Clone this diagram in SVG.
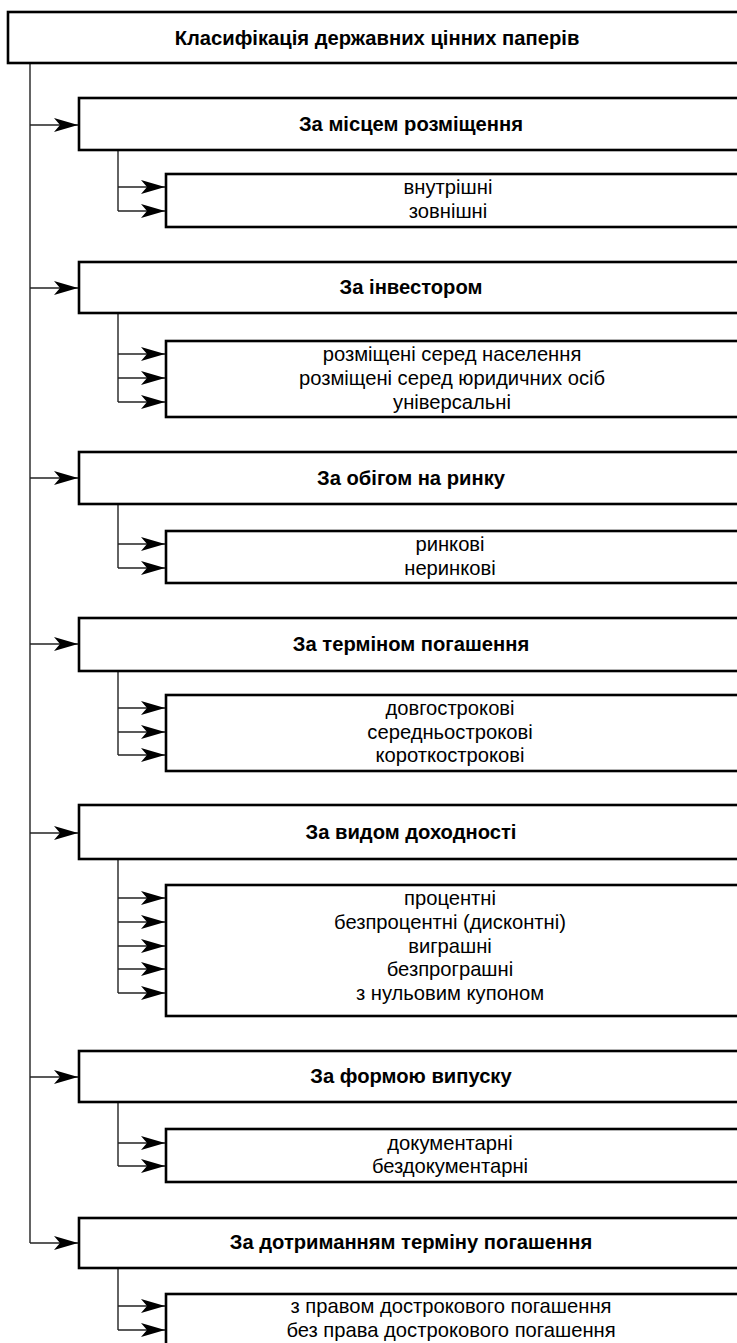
<svg xmlns="http://www.w3.org/2000/svg" width="737" height="1343" viewBox="0 0 737 1343">
<style>
.box{fill:#fff;stroke:#000;stroke-width:2.6}
.ln{fill:none;stroke:#222;stroke-width:1.4}
.t{font-family:"Liberation Sans",Arial,sans-serif;font-size:20.2px;text-anchor:middle;fill:#000}
.b{font-weight:bold}
</style>
<defs>
<marker id="ah" markerUnits="userSpaceOnUse" markerWidth="26" markerHeight="16" refX="25" refY="8" orient="auto" viewBox="0 0 26 16">
<path d="M1,1 L25,8 L1,15 L7,8 Z" fill="#000"/>
</marker>
</defs>
<rect width="737" height="1343" fill="#fff"/>
<g id="connectors">
<path class="ln" d="M30,63 V1243"/>
<path class="ln" marker-end="url(#ah)" d="M30,125 H78"/>
<path class="ln" marker-end="url(#ah)" d="M30,288 H78"/>
<path class="ln" marker-end="url(#ah)" d="M30,478 H78"/>
<path class="ln" marker-end="url(#ah)" d="M30,644 H78"/>
<path class="ln" marker-end="url(#ah)" d="M30,833 H78"/>
<path class="ln" marker-end="url(#ah)" d="M30,1077 H78"/>
<path class="ln" marker-end="url(#ah)" d="M30,1243 H78"/>
<path class="ln" d="M118,150 V211"/>
<path class="ln" marker-end="url(#ah)" d="M118,187 H165"/>
<path class="ln" marker-end="url(#ah)" d="M118,211 H165"/>
<path class="ln" d="M118,313 V402"/>
<path class="ln" marker-end="url(#ah)" d="M118,354 H165"/>
<path class="ln" marker-end="url(#ah)" d="M118,378 H165"/>
<path class="ln" marker-end="url(#ah)" d="M118,402 H165"/>
<path class="ln" d="M118,504 V568"/>
<path class="ln" marker-end="url(#ah)" d="M118,544 H165"/>
<path class="ln" marker-end="url(#ah)" d="M118,568 H165"/>
<path class="ln" d="M118,671 V755"/>
<path class="ln" marker-end="url(#ah)" d="M118,708 H165"/>
<path class="ln" marker-end="url(#ah)" d="M118,732 H165"/>
<path class="ln" marker-end="url(#ah)" d="M118,755 H165"/>
<path class="ln" d="M118,859 V993"/>
<path class="ln" marker-end="url(#ah)" d="M118,898 H165"/>
<path class="ln" marker-end="url(#ah)" d="M118,922 H165"/>
<path class="ln" marker-end="url(#ah)" d="M118,946 H165"/>
<path class="ln" marker-end="url(#ah)" d="M118,969 H165"/>
<path class="ln" marker-end="url(#ah)" d="M118,993 H165"/>
<path class="ln" d="M118,1102 V1166"/>
<path class="ln" marker-end="url(#ah)" d="M118,1143 H165"/>
<path class="ln" marker-end="url(#ah)" d="M118,1166 H165"/>
<path class="ln" d="M118,1268 V1330"/>
<path class="ln" marker-end="url(#ah)" d="M118,1306 H165"/>
<path class="ln" marker-end="url(#ah)" d="M118,1330 H165"/>
</g>
<g id="root">
<rect class="box" x="8" y="12" width="740" height="51"/>
<text class="t b" x="377" y="45">Класифікація державних цінних паперів</text>
</g>
<g id="n1">
<rect class="box" x="79" y="98" width="670" height="52"/>
<text class="t b" x="411" y="131">За місцем розміщення</text>
</g>
<g id="n1s">
<rect class="box" x="166" y="174" width="583" height="53"/>
<text class="t" x="448" y="194">внутрішні</text>
<text class="t" x="448" y="218">зовнішні</text>
</g>
<g id="n2">
<rect class="box" x="79" y="262" width="670" height="51"/>
<text class="t b" x="411" y="294">За інвестором</text>
</g>
<g id="n2s">
<rect class="box" x="166" y="341" width="583" height="76"/>
<text class="t" x="452" y="361">розміщені серед населення</text>
<text class="t" x="452" y="385">розміщені серед юридичних осіб</text>
<text class="t" x="452" y="409">універсальні</text>
</g>
<g id="n3">
<rect class="box" x="79" y="452" width="670" height="52"/>
<text class="t b" x="411" y="485">За обігом на ринку</text>
</g>
<g id="n3s">
<rect class="box" x="166" y="531" width="583" height="52"/>
<text class="t" x="450" y="551">ринкові</text>
<text class="t" x="450" y="575">неринкові</text>
</g>
<g id="n4">
<rect class="box" x="79" y="618" width="670" height="53"/>
<text class="t b" x="411" y="651">За терміном погашення</text>
</g>
<g id="n4s">
<rect class="box" x="166" y="695" width="583" height="76"/>
<text class="t" x="450" y="715">довгострокові</text>
<text class="t" x="450" y="739">середньострокові</text>
<text class="t" x="450" y="762">короткострокові</text>
</g>
<g id="n5">
<rect class="box" x="79" y="805" width="670" height="54"/>
<text class="t b" x="411" y="839">За видом доходності</text>
</g>
<g id="n5s">
<rect class="box" x="166" y="885" width="583" height="131"/>
<text class="t" x="450" y="905">процентні</text>
<text class="t" x="450" y="929">безпроцентні (дисконтні)</text>
<text class="t" x="450" y="953">виграшні</text>
<text class="t" x="450" y="976">безпрограшні</text>
<text class="t" x="450" y="1000">з нульовим купоном</text>
</g>
<g id="n6">
<rect class="box" x="79" y="1051" width="670" height="51"/>
<text class="t b" x="411" y="1083">За формою випуску</text>
</g>
<g id="n6s">
<rect class="box" x="166" y="1129" width="583" height="53"/>
<text class="t" x="450" y="1150">документарні</text>
<text class="t" x="450" y="1173">бездокументарні</text>
</g>
<g id="n7">
<rect class="box" x="79" y="1218" width="670" height="50"/>
<text class="t b" x="411" y="1249">За дотриманням терміну погашення</text>
</g>
<g id="n7s">
<rect class="box" x="166" y="1294" width="583" height="70"/>
<text class="t" x="451" y="1313">з правом дострокового погашення</text>
<text class="t" x="451" y="1337">без права дострокового погашення</text>
</g>
</svg>
